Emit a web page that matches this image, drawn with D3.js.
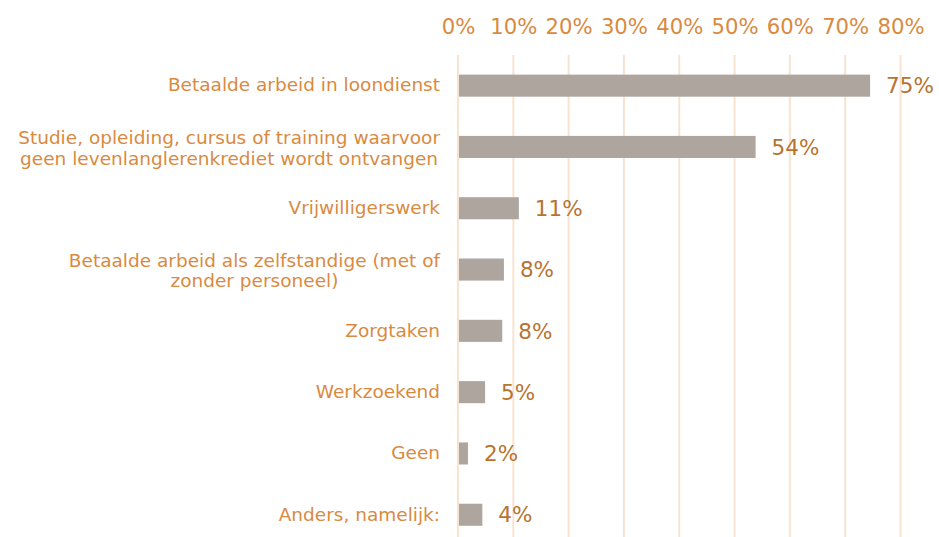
<!DOCTYPE html>
<html>
<head>
<meta charset="utf-8">
<script src="https://cdn.jsdelivr.net/npm/d3@7"></script>
<style>
  body { margin: 0; background: #fff; }
  text { font-family: "DejaVu Sans", Verdana, sans-serif; }
</style>
</head>
<body>
<div id="chart"></div>
<script>
// data
var categories = [
  ["Betaalde arbeid in loondienst"],
  ["Studie, opleiding, cursus of training waarvoor", "geen levenlanglerenkrediet wordt ontvangen"],
  ["Vrijwilligerswerk"],
  ["Betaalde arbeid als zelfstandige (met of", "zonder personeel)"],
  ["Zorgtaken"],
  ["Werkzoekend"],
  ["Geen"],
  ["Anders, namelijk:"]
];
var values = [74.5, 53.8, 11, 8.3, 8, 4.9, 1.8, 4.4];
var valueLabels = ["75%", "54%", "11%", "8%", "8%", "5%", "2%", "4%"];
var ticks = [0, 10, 20, 30, 40, 50, 60, 70, 80];

var svgWidth = 939;
var svgHeight = 537;

var margin = { top: 55, left: 458, right: 38.5 };
var labelRight = 440;

var svg = d3.select("#chart")
  .append("svg")
  .attr("width", svgWidth)
  .attr("height", svgHeight);

var x = d3.scaleLinear()
  .domain([0, 80])
  .range([margin.left, svgWidth - margin.right]);

var y = d3.scaleBand()
  .domain(d3.range(values.length))
  .range([margin.top, margin.top + 61.3 * values.length])
  .paddingInner(0.64)
  .paddingOuter(0.32);

// gridlines
svg.append("g")
  .selectAll("line")
  .data(ticks)
  .enter()
  .append("line")
  .attr("x1", d => x(d))
  .attr("x2", d => x(d))
  .attr("y1", margin.top)
  .attr("y2", svgHeight)
  .attr("stroke", "#F8E3D0")
  .attr("stroke-width", 2);

// top axis labels
var topAxis = d3.axisTop(x)
  .tickValues(ticks)
  .tickFormat(d => d + "%")
  .tickSize(0)
  .tickPadding(0);

var axisG = svg.append("g")
  .attr("transform", "translate(0, 34)")
  .call(topAxis);
axisG.select(".domain").remove();
axisG.selectAll("text")
  .attr("font-family", "DejaVu Sans, Verdana, sans-serif")
  .attr("font-size", 21.2)
  .attr("fill", "#D98A3F");

// bars
svg.append("g")
  .selectAll("rect")
  .data(values)
  .enter()
  .append("rect")
  .attr("x", x(0) + 1)
  .attr("y", (d, i) => y(i))
  .attr("width", d => x(d) - x(0) - 1)
  .attr("height", y.bandwidth())
  .attr("fill", "#ADA59E");

// value labels
svg.append("g")
  .selectAll("text")
  .data(values)
  .enter()
  .append("text")
  .attr("x", d => x(d) + 16)
  .attr("y", (d, i) => y(i) + y.bandwidth() / 2)
  .attr("dy", "0.36em")
  .attr("font-size", 21.5)
  .attr("fill", "#B8732F")
  .text((d, i) => valueLabels[i]);

// category labels: block right aligned, lines centred on each other
var catG = svg.append("g")
  .selectAll("text")
  .data(categories)
  .enter()
  .append("text")
  .attr("text-anchor", "middle")
  .attr("font-size", 18.5)
  .attr("fill", "#D98A3F");

catG.each(function(lines, i) {
  var t = d3.select(this);
  var cy = y(i) + y.bandwidth() / 2;
  var first = lines.length > 1 ? cy - 3 : cy + 5.8;
  var spans = t.selectAll("tspan")
    .data(lines)
    .enter()
    .append("tspan")
    .attr("y", (d, j) => first + j * 20.7)
    .text(d => d);
  var maxW = 0;
  spans.each(function() {
    maxW = Math.max(maxW, this.getComputedTextLength());
  });
  spans.attr("x", labelRight - maxW / 2);
});
</script>
</body>
</html>
